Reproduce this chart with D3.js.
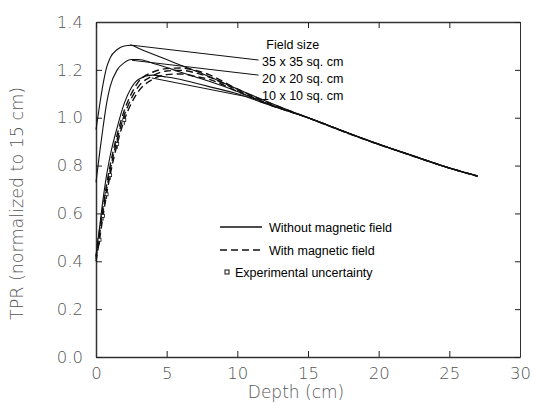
<!DOCTYPE html>
<html>
<head>
<meta charset="utf-8">
<script src="https://cdn.jsdelivr.net/npm/d3@7"></script>
<style>
  body { margin: 0; background: #fff; }
  .tick-label { font-family: "DejaVu Sans", sans-serif; font-weight: 200; fill: #555; }
  .note { font-family: "Liberation Sans", Arial, sans-serif; fill: #000; }
</style>
</head>
<body>
<script>
// depth points (cm) shared by every curve
const depth = [0, 0.25, 0.5, 0.75, 1, 1.5, 2, 2.5, 3, 4, 5, 6, 7, 8, 10, 12, 15, 18, 20, 22, 25, 27];

// without magnetic field (solid)
const tpr35 = [0.95, 1.05, 1.14, 1.21, 1.25, 1.285, 1.3, 1.303, 1.29, 1.266, 1.243, 1.219, 1.196, 1.172, 1.12, 1.07, 1.0, 0.933, 0.89, 0.85, 0.79, 0.757];
const tpr20 = [0.73, 0.85, 0.96, 1.06, 1.13, 1.2, 1.23, 1.243, 1.243, 1.228, 1.21, 1.19, 1.171, 1.152, 1.11, 1.062, 1.0, 0.932, 0.889, 0.849, 0.79, 0.757];
const tpr10 = [0.42, 0.54, 0.66, 0.76, 0.84, 0.96, 1.06, 1.125, 1.16, 1.178, 1.17, 1.16, 1.145, 1.13, 1.1, 1.058, 1.0, 0.932, 0.889, 0.848, 0.789, 0.756];

// with magnetic field (dashed)
const tpr35B = [0.42, 0.53, 0.63, 0.72, 0.80, 0.93, 1.03, 1.10, 1.15, 1.19, 1.205, 1.208, 1.198, 1.18, 1.12, 1.068, 1.0, 0.931, 0.888, 0.848, 0.79, 0.755];
const tpr20B = [0.41, 0.51, 0.61, 0.70, 0.78, 0.91, 1.01, 1.08, 1.13, 1.175, 1.195, 1.198, 1.188, 1.17, 1.115, 1.063, 1.0, 0.932, 0.889, 0.849, 0.79, 0.756];
const tpr10B = [0.40, 0.49, 0.59, 0.68, 0.76, 0.89, 0.99, 1.06, 1.11, 1.16, 1.18, 1.183, 1.173, 1.16, 1.11, 1.06, 1.0, 0.932, 0.889, 0.849, 0.79, 0.756];

// experimental points with uncertainty
const expDepth = [0.25, 0.5, 0.75, 1, 1.5, 2];
const expValue = [0.49, 0.59, 0.68, 0.76, 0.89, 0.99];
const expErr = [0.02, 0.02, 0.02, 0.02, 0.02, 0.02];

// field size labels and where their leader lines point
const fieldLabels = ["35 x 35 sq. cm", "20 x 20 sq. cm", "10 x 10 sq. cm"];
const labelY = [1.216, 1.145, 1.074];
const leaderFrom = [[2.4, 1.304], [2.55, 1.24], [3.96, 1.166]];
const leaderTo = [[11.5, 1.241], [11.5, 1.178], [11.5, 1.078]];

const xTicks = [0, 5, 10, 15, 20, 25, 30];
const yTicks = [0, 0.2, 0.4, 0.6, 0.8, 1.0, 1.2, 1.4];

const margin = {top: 22, right: 13, bottom: 46, left: 96},
    width = 533 - margin.left - margin.right,
    height = 403 - margin.top - margin.bottom;

const svg = d3.select("body")
    .append("svg")
    .attr("width", 533)
    .attr("height", 403)
    .append("g")
    .attr("transform", `translate(${margin.left}, ${margin.top})`);

const x = d3.scaleLinear().domain([0, 30]).range([0, width]);
const y = d3.scaleLinear().domain([0, 1.4]).range([height, 0]);

// frame axes, ticks pointing inward
const styleAxis = g => {
    g.select(".domain").attr("stroke", "#333").attr("stroke-width", 1.5);
    g.selectAll(".tick line").attr("stroke", "#222").attr("stroke-width", 1);
};

svg.append("g")
    .attr("transform", "translate(0," + height + ")")
    .call(d3.axisBottom(x).tickValues(xTicks).tickSize(-6).tickSizeOuter(0).tickFormat(d3.format("d")))
    .call(styleAxis)
    .call(g => g.selectAll(".tick text").attr("class", "tick-label").attr("font-size", 16.5).attr("y", 5).attr("dy", "1.05em"));

svg.append("g")
    .call(d3.axisLeft(y).tickValues(yTicks).tickSize(-6).tickSizeOuter(0).tickFormat(d3.format(".1f")))
    .call(styleAxis)
    .call(g => g.selectAll(".tick text").attr("class", "tick-label").attr("font-size", 16.5).attr("x", -13));

svg.append("g")
    .call(d3.axisTop(x).tickValues(xTicks).tickSize(-6).tickSizeOuter(0).tickFormat(""))
    .call(styleAxis);

svg.append("g")
    .attr("transform", "translate(" + width + ",0)")
    .call(d3.axisRight(y).tickValues(yTicks).tickSize(-5).tickSizeOuter(0).tickFormat(""))
    .call(styleAxis)
    .call(g => g.select(".domain").attr("stroke-width", 1));

// axis titles
svg.append("text")
    .attr("class", "tick-label")
    .attr("x", width / 2 - 12)
    .attr("y", height + 41)
    .attr("text-anchor", "middle")
    .attr("font-size", 17)
    .text("Depth (cm)");

svg.append("text")
    .attr("class", "tick-label")
    .attr("transform", `translate(${-73}, ${height / 2 + 14}) rotate(-90)`)
    .attr("text-anchor", "middle")
    .attr("font-size", 17.5)
    .text("TPR (normalized to 15 cm)");

// curves
const line = d3.line()
    .x(d => x(d[0]))
    .y(d => y(d[1]))
    .curve(d3.curveMonotoneX);

const solidSeries = [tpr35, tpr20, tpr10];
const dashedSeries = [tpr35B, tpr20B, tpr10B];

svg.selectAll(".solid")
    .data(solidSeries)
    .enter()
    .append("path")
    .attr("class", "solid")
    .attr("d", s => line(depth.map((d, i) => [d, s[i]])))
    .attr("fill", "none")
    .attr("stroke", "#111")
    .attr("stroke-width", 1.1);

svg.selectAll(".dashed")
    .data(dashedSeries)
    .enter()
    .append("path")
    .attr("class", "dashed")
    .attr("d", s => line(depth.map((d, i) => [d, s[i]])))
    .attr("fill", "none")
    .attr("stroke", "#111")
    .attr("stroke-width", 1.4)
    .attr("stroke-dasharray", "7,4");

// experimental error bars
const exp = svg.selectAll(".exp")
    .data(expDepth.map((d, i) => ({d: d, v: expValue[i], e: expErr[i]})))
    .enter()
    .append("g")
    .attr("class", "exp");
exp.append("line")
    .attr("x1", d => x(d.d)).attr("x2", d => x(d.d))
    .attr("y1", d => y(d.v - d.e)).attr("y2", d => y(d.v + d.e))
    .attr("stroke", "#111");
exp.append("rect")
    .attr("x", d => x(d.d) - 1.5).attr("y", d => y(d.v) - 1.5)
    .attr("width", 3).attr("height", 3)
    .attr("fill", "#fff").attr("stroke", "#111").attr("stroke-width", 0.8);

// field size annotation
svg.selectAll(".leader")
    .data(leaderFrom)
    .enter()
    .append("line")
    .attr("class", "leader")
    .attr("x1", d => x(d[0])).attr("y1", d => y(d[1]))
    .attr("x2", (d, i) => x(leaderTo[i][0])).attr("y2", (d, i) => y(leaderTo[i][1]))
    .attr("stroke", "#111")
    .attr("stroke-width", 1);

svg.append("text")
    .attr("class", "note")
    .attr("x", x(12.05))
    .attr("y", y(1.287))
    .attr("font-size", 12.5)
    .text("Field size");

svg.selectAll(".field-label")
    .data(fieldLabels)
    .enter()
    .append("text")
    .attr("class", "note field-label")
    .attr("x", x(11.75))
    .attr("y", (d, i) => y(labelY[i]))
    .attr("font-size", 12.5)
    .text(d => d);

// legend
const legend = svg.append("g").attr("transform", "translate(124, 205)");
legend.append("line")
    .attr("x1", 0).attr("x2", 42).attr("y1", 0).attr("y2", 0)
    .attr("stroke", "#111").attr("stroke-width", 1.4);
legend.append("text").attr("class", "note")
    .attr("x", 49).attr("y", 4.5).attr("font-size", 12.5)
    .text("Without magnetic field");
legend.append("line")
    .attr("x1", 0).attr("x2", 42).attr("y1", 23).attr("y2", 23)
    .attr("stroke", "#111").attr("stroke-width", 1.4)
    .attr("stroke-dasharray", "7,4");
legend.append("text").attr("class", "note")
    .attr("x", 49).attr("y", 27.5).attr("font-size", 12.5)
    .text("With magnetic field");
legend.append("rect")
    .attr("x", 5).attr("y", 43).attr("width", 4).attr("height", 4)
    .attr("fill", "#fff").attr("stroke", "#111").attr("stroke-width", 1);
legend.append("text").attr("class", "note")
    .attr("x", 15).attr("y", 49.5).attr("font-size", 12.5)
    .text("Experimental uncertainty");
</script>
</body>
</html>
